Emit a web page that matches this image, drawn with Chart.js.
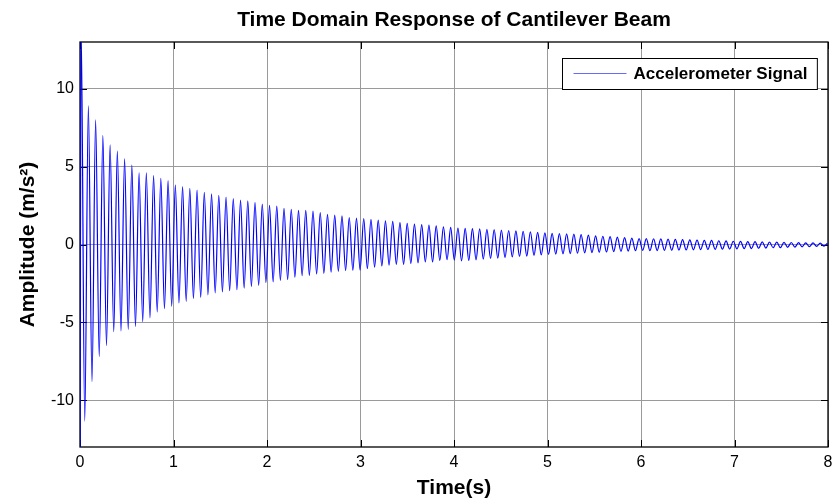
<!DOCTYPE html>
<html>
<head>
<meta charset="utf-8">
<script src="https://cdn.jsdelivr.net/npm/chart.js@4.4.0/dist/chart.umd.min.js"></script>
<style>
  html, body { margin: 0; padding: 0; background: #ffffff; }
  #wrap { width: 834px; height: 504px; }
</style>
</head>
<body>
<div id="wrap"><canvas id="chart-beam" width="834" height="504"></canvas></div>
<script>
const TITLE = "Time Domain Response of Cantilever Beam";
const SERIES_LABEL = "Accelerometer Signal";
const X_LABEL = "Time(s)";
const Y_LABEL = "Amplitude (m/s\u00B2)";

const X_TICKS = [0, 1, 2, 3, 4, 5, 6, 7, 8];
const Y_TICKS = [-10, -5, 0, 5, 10];

// transient at t = 0 (runs off the bottom of the axes)
const ONSET_VALUE = -14;
// time of the first positive peak and spacing between successive extrema (~12.9 Hz)
const FIRST_PEAK_S = 0.012;
const HALF_PERIOD_S = 0.03875;

// positive peaks, one per cycle
const POS_PEAKS = [
  14, 8.9, 8.0, 7.0, 6.4, 6.0, 5.5, 5.1, 4.6, 4.6,
  4.42, 4.25, 4.1, 3.83, 3.72, 3.6, 3.5, 3.35, 3.25, 3.15,
  3.05, 2.95, 2.85, 2.8, 2.7, 2.6, 2.51, 2.47, 2.32, 2.26,
  2.19, 2.19, 2.15, 2.05, 1.94, 1.88, 1.84, 1.73, 1.69, 1.67,
  1.62, 1.56, 1.52, 1.48, 1.41, 1.35, 1.31, 1.27, 1.24, 1.2,
  1.14, 1.1,
  1.06, 1.04, 1.02, 1.0, 0.97, 0.95, 0.92, 0.9, 0.87, 0.85, 0.82, 0.78, 0.74,
  0.72, 0.70, 0.68, 0.66, 0.63, 0.6, 0.56, 0.53, 0.5, 0.47, 0.44, 0.41, 0.38,
  0.38, 0.37, 0.36, 0.35, 0.33, 0.31, 0.3, 0.28, 0.27, 0.26, 0.24, 0.23, 0.21,
  0.2, 0.19, 0.18, 0.17, 0.16, 0.15, 0.14, 0.13, 0.12, 0.11, 0.1, 0.09, 0.08
];

// negative troughs, one per cycle (each half a period after its peak)
const NEG_PEAKS = [
  -11.35, -8.8, -7.2, -6.5, -5.6, -5.55, -5.45, -5.26, -4.95, -4.71,
  -4.33, -4.12, -3.97, -3.75, -3.65, -3.48, -3.4, -3.23, -3.1, -3.05,
  -2.97, -2.9, -2.8, -2.7, -2.62,
  -2.45, -2.4, -2.3, -2.25, -2.1, -2.0, -1.98, -1.9, -1.85, -1.78,
  -1.72, -1.67, -1.65, -1.64, -1.55, -1.45, -1.38, -1.33, -1.27, -1.27,
  -1.22, -1.18, -1.12, -1.12, -1.02, -0.98, -1.0,
  -1.05, -1.02, -0.98, -0.94, -0.9, -0.87, -0.84, -0.8, -0.77, -0.74, -0.7, -0.67, -0.64,
  -0.62, -0.6, -0.58, -0.56, -0.54, -0.52, -0.5, -0.48, -0.46, -0.44, -0.42, -0.4, -0.38,
  -0.4, -0.39, -0.38, -0.37, -0.36, -0.35, -0.34, -0.33, -0.32, -0.31, -0.3, -0.29, -0.28,
  -0.27, -0.26, -0.24, -0.23, -0.21, -0.2, -0.18, -0.17, -0.15, -0.14, -0.12, -0.11
];

const FONT = "'Liberation Sans', Arial, Helvetica, sans-serif";
const LINE_BLUE = "#0000ff";
const GRID_GRAY = "#9a9a9a";

// peaks and troughs interleaved in time order
const signal = [{ x: 0, y: ONSET_VALUE }];
POS_PEAKS.forEach((v, k) => {
  signal.push({ x: FIRST_PEAK_S + 2 * k * HALF_PERIOD_S, y: v });
  if (k < NEG_PEAKS.length) {
    signal.push({ x: FIRST_PEAK_S + (2 * k + 1) * HALF_PERIOD_S, y: NEG_PEAKS[k] });
  }
});

// black box with inward tick marks, like the original figure
const axesBox = {
  id: "axesBox",
  beforeDatasetsDraw(chart) {
    const { ctx, chartArea: a, scales } = chart;
    ctx.save();
    ctx.strokeStyle = "#000";
    ctx.lineWidth = 1;
    ctx.beginPath();
    X_TICKS.forEach((v) => {
      const px = Math.round(scales.x.getPixelForValue(v)) + 0.5;
      ctx.moveTo(px, a.bottom); ctx.lineTo(px, a.bottom - 7);
      ctx.moveTo(px, a.top); ctx.lineTo(px, a.top + 7);
    });
    Y_TICKS.forEach((v) => {
      const py = Math.round(scales.y.getPixelForValue(v)) + 0.5;
      ctx.moveTo(a.left, py); ctx.lineTo(a.left + 7, py);
      ctx.moveTo(a.right, py); ctx.lineTo(a.right - 7, py);
    });
    ctx.stroke();
    ctx.lineWidth = 1.3;
    ctx.strokeRect(a.left, a.top, a.right - a.left, a.bottom - a.top);
    ctx.restore();
  },
};

const boxedLegend = {
  id: "boxedLegend",
  afterDraw(chart) {
    const { ctx, chartArea: a } = chart;
    ctx.save();
    ctx.font = "bold 17px " + FONT;
    const w = 71 + ctx.measureText(SERIES_LABEL).width + 10;
    const h = 31;
    const x = Math.round(a.right - 11 - w) + 0.5;
    const y = Math.round(a.top + 16) + 0.5;
    ctx.fillStyle = "#fff";
    ctx.fillRect(x, y, w, h);
    ctx.strokeStyle = "#000";
    ctx.lineWidth = 1;
    ctx.strokeRect(x, y, w, h);
    ctx.strokeStyle = "#6a6aff";
    ctx.beginPath();
    ctx.moveTo(x + 11, y + 15); ctx.lineTo(x + 64, y + 15);
    ctx.stroke();
    ctx.fillStyle = "#000";
    ctx.textBaseline = "middle";
    ctx.fillText(SERIES_LABEL, x + 71, y + 16);
    ctx.restore();
  },
};

new Chart(document.getElementById("chart-beam"), {
  type: "line",
  data: {
    datasets: [{
      label: SERIES_LABEL,
      data: signal,
      borderColor: LINE_BLUE,
      borderWidth: 1.2,
      pointRadius: 0,
      fill: false,
      cubicInterpolationMode: "monotone",
    }],
  },
  options: {
    responsive: false,
    animation: false,
    events: [],
    layout: { padding: { right: 6 } },
    scales: {
      x: {
        type: "linear",
        min: 0,
        max: 8,
        afterFit: (s) => { s.height = 57; s.paddingLeft = 0; s.paddingRight = 0; },
        afterBuildTicks: (s) => { s.ticks = X_TICKS.map((v) => ({ value: v })); },
        ticks: { color: "#000", font: { family: FONT, size: 16 }, padding: 6, maxRotation: 0 },
        grid: { color: GRID_GRAY, lineWidth: 1, drawTicks: false },
        border: { display: false },
        title: { display: true, text: X_LABEL, color: "#000", font: { family: FONT, size: 21, weight: "bold" }, padding: { top: 0, bottom: 3 } },
      },
      y: {
        type: "linear",
        min: -13,
        max: 13,
        afterFit: (s) => { s.width = 80; s.paddingTop = 0; s.paddingBottom = 0; },
        afterBuildTicks: (s) => { s.ticks = Y_TICKS.map((v) => ({ value: v })); },
        ticks: { color: "#000", font: { family: FONT, size: 16 }, padding: 6 },
        grid: { color: GRID_GRAY, lineWidth: 1, drawTicks: false },
        border: { display: false },
        title: { display: true, text: Y_LABEL, color: "#000", font: { family: FONT, size: 21, weight: "bold" }, padding: { top: 16, bottom: 0 } },
      },
    },
    plugins: {
      legend: { display: false },
      tooltip: { enabled: false },
      title: {
        display: true,
        text: TITLE,
        fullSize: false,
        color: "#000",
        font: { family: FONT, size: 21, weight: "bold" },
        padding: { top: 8, bottom: 8.8 },
      },
    },
  },
  plugins: [axesBox, boxedLegend],
});
</script>
</body>
</html>
